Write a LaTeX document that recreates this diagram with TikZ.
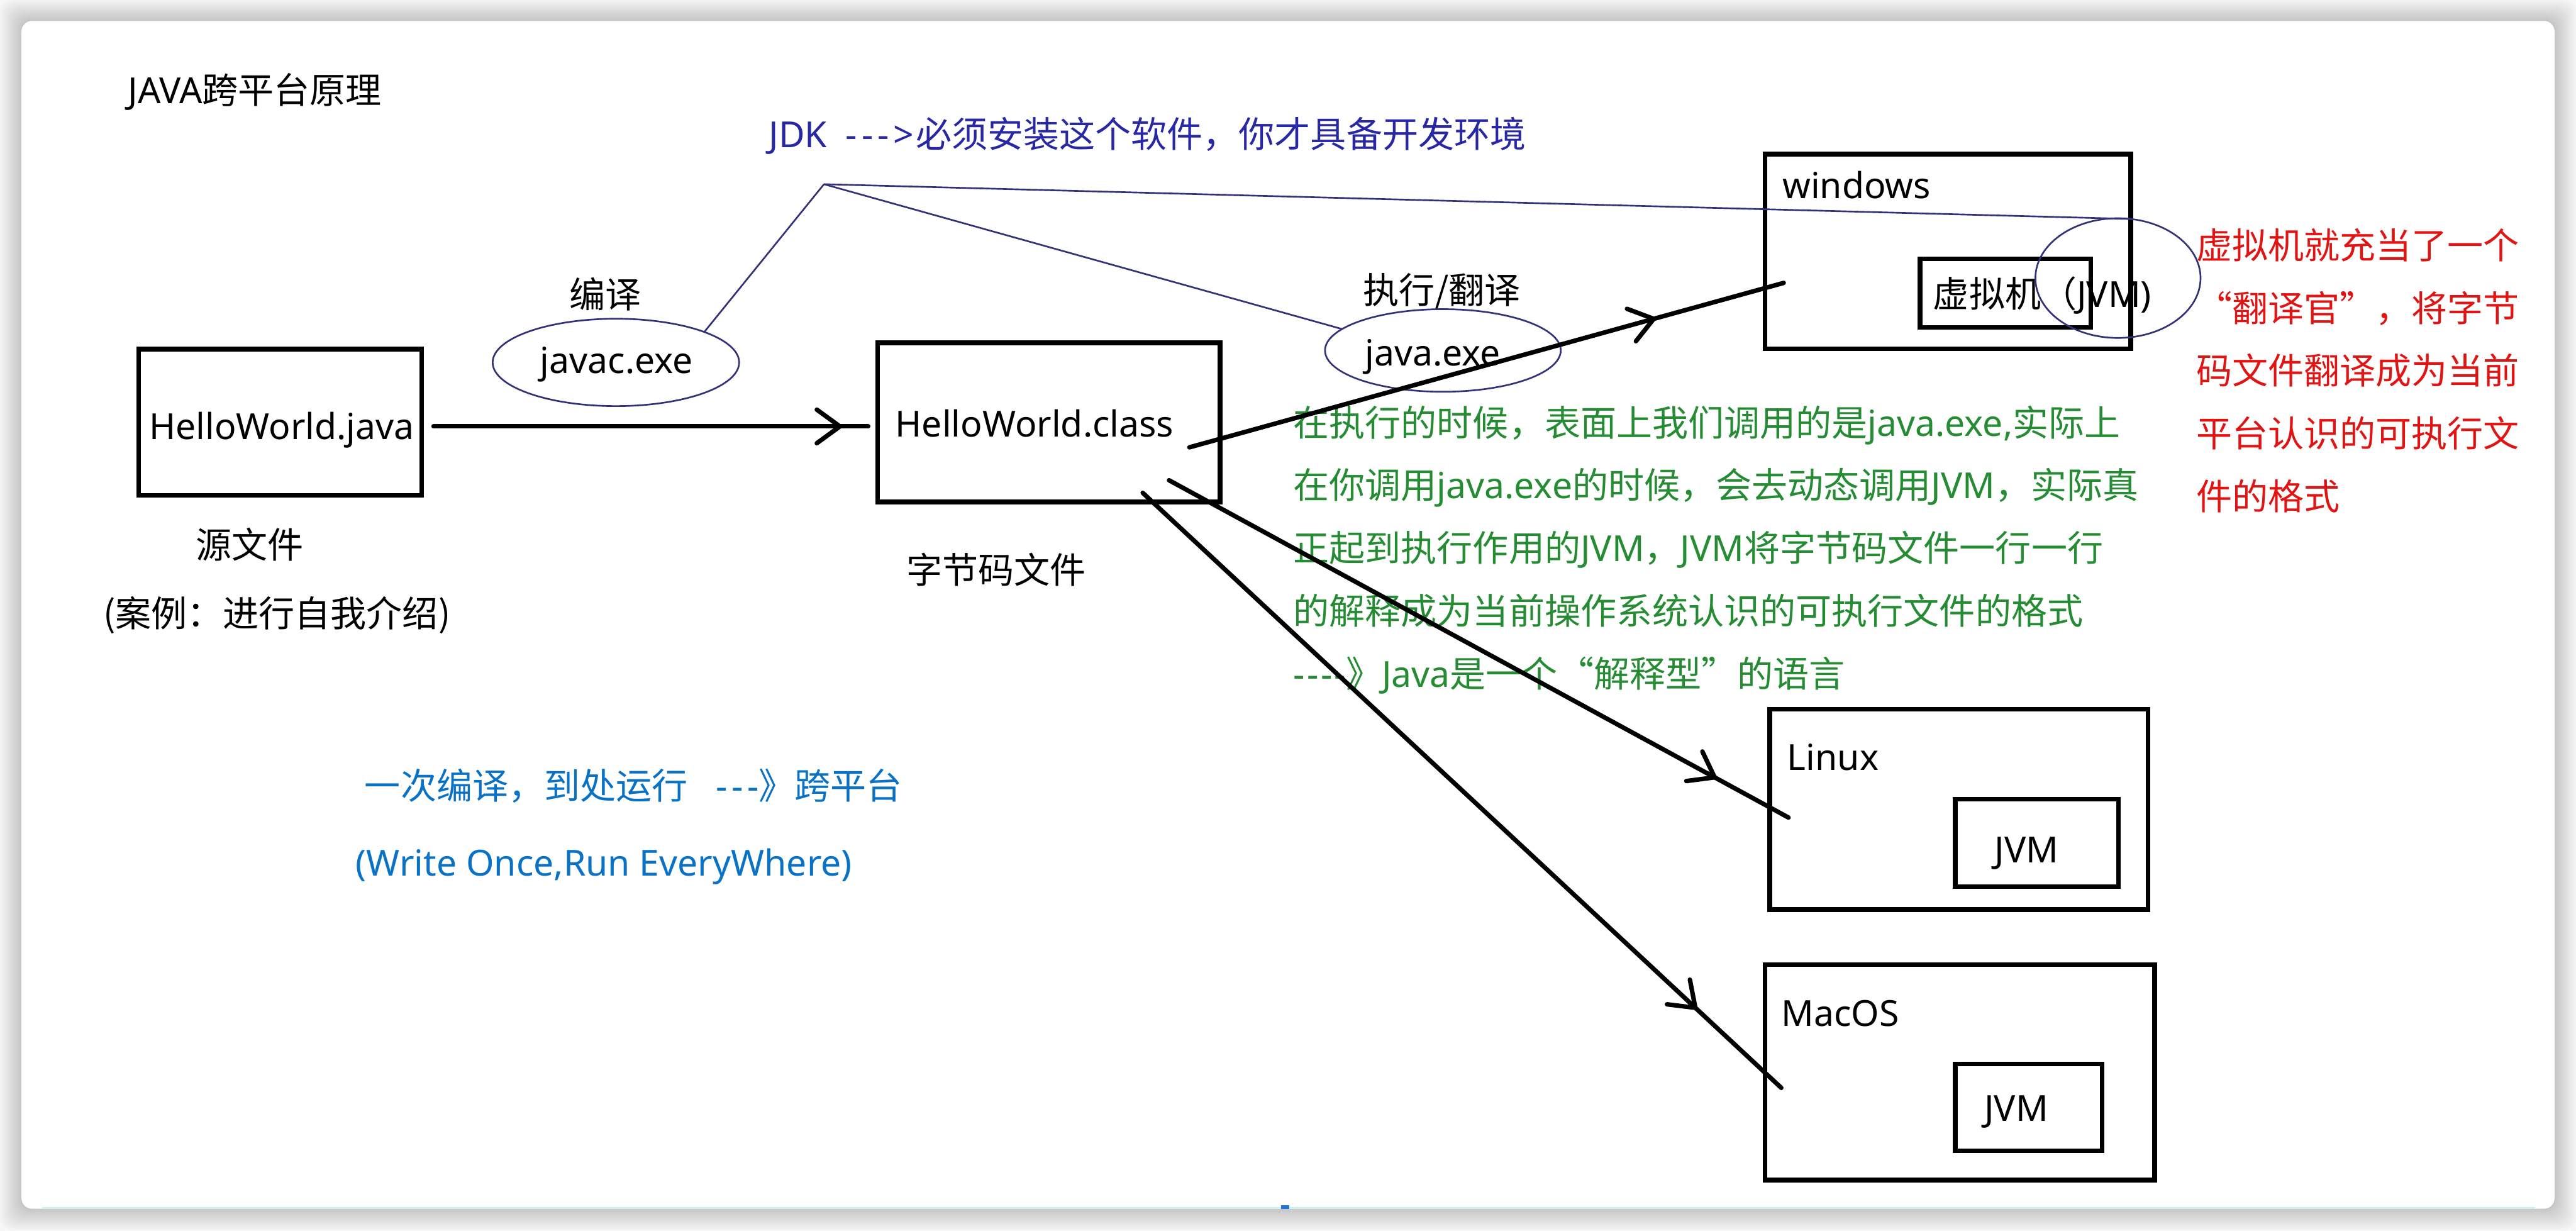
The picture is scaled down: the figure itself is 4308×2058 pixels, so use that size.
\documentclass[tikz,border=0pt]{standalone}
\usepackage{fontspec}
\setmainfont{Noto Sans CJK SC}[Ligatures=TeXOff]
\newfontfamily\lat{Noto Sans}[Ligatures=TeXOff]
\usetikzlibrary{shapes.geometric,arrows.meta,decorations.markings}
\definecolor{navyline}{RGB}{50,50,120}
\definecolor{jdkblue}{RGB}{40,40,165}
\definecolor{notegreen}{RGB}{38,140,52}
\definecolor{notered}{RGB}{225,20,20}
\definecolor{slogan}{RGB}{10,114,198}
\definecolor{pagebg}{RGB}{247,247,247}
\definecolor{edgecyan}{RGB}{190,242,245}
\definecolor{markblue}{RGB}{30,120,210}
\newcommand\fsz{\fontsize{17.07pt}{20pt}\selectfont}
\begin{document}
\begin{tikzpicture}[x=0.01cm,y=-0.01cm,
  every node/.style={inner sep=0pt,outer sep=0pt,font=\fsz},
  box/.style={draw,line width=0.08cm},
  vmbox/.style={draw,line width=0.075cm},
  oval/.style={ellipse,draw=navyline,line width=0.028cm},
  jdkline/.style={navyline,line width=0.028cm},
  lbl/.style={anchor=base west},
  ctr/.style={anchor=base},
  flow/.style={line width=0.075cm,line cap=round,postaction={decorate},
    decoration={markings,mark=at position #1 with {\arrow{Straight Barb[length=11pt,width=16pt,round]}}}}]
\useasboundingbox (0,0) rectangle (4308,2058);
% page and card
\fill[pagebg] (0,0) rectangle (4308,2058);
\foreach \i in {1,...,12}
  \fill[black,opacity=0.015,rounded corners=6pt] ({36-3*\i},{35-3*\i}) rectangle ({4272+3*\i},{2021+3*\i});
\fill[white,rounded corners=5pt] (36,35) rectangle (4272,2021);
\draw[edgecyan,line width=0.02cm] (70,2019) -- (4240,2019);
\fill[markblue] (2142,2015) rectangle (2156,2021);

% titles
\node[lbl] (title) at (214,173) {{\lat JAVA}跨平台原理};
\node[lbl,text=jdkblue] (jdk) at (1286,247) {{\lat JDK\ \ -\kern2pt-\kern2pt-\kern2pt>\kern1pt}必须安装这个软件，你才具备开发环境};

% source and class
\node[box,minimum width=4.73cm,minimum height=2.44cm] (hj) at (468.5,706) {};
\node[ctr] (hjt) at (471,735) {\lat HelloWorld.java};
\node[box,minimum width=5.72cm,minimum height=2.66cm] (hc) at (1754,706) {};
\node[ctr] (hct) at (1730,730) {\lat HelloWorld.class};
\node[ctr] (src) at (418,933) {源文件};
\node[ctr] (case) at (463,1048) {(案例：进行自我介绍)};
\node[ctr] (bc) at (1666,975) {字节码文件};

% tools
\node[ctr] (compile) at (1012,515) {编译};
\node[oval,minimum width=4.12cm,minimum height=1.46cm] (javac) at (1030,606) {};
\node[ctr] (javact) at (1031,624) {\lat javac.exe};
\node[ctr] (exec) at (2411,508) {执行/翻译};
\node[oval,minimum width=3.94cm,minimum height=1.38cm] (java) at (2413,586) {};
\node[ctr] (javat) at (2396,612) {\lat java.exe};

% windows
\node[box,minimum width=6.11cm,minimum height=3.25cm] (win) at (3257.5,420.5) {};
\node[lbl] (wint) at (2981,332) {\lat windows};
\node[vmbox,minimum width=2.85cm,minimum height=1.14cm] (winvm) at (3353.5,490) {};
\node[lbl] (winvmt) at (3233,514) {虚拟机（{\lat JVM)}};
\node[oval,minimum width=2.76cm,minimum height=2cm] (jvmc) at (3542,465) {};

% red note
\foreach \t [count=\i] in {虚拟机就充当了一个,“翻译官”，将字节,码文件翻译成为当前,平台认识的可执行文,件的格式}
  \node[lbl,text=notered] (r\i) at (3673,{433+104.75*(\i-1)}) {\t};

% green note
\node[lbl,text=notegreen] (g1) at (2163,729) {在执行的时候，表面上我们调用的是{\lat java.exe,}实际上};
\node[lbl,text=notegreen] (g2) at (2163,834) {在你调用{\lat java.exe}的时候，会去动态调用{\lat JVM}，实际真};
\node[lbl,text=notegreen] (g3) at (2163,939) {正起到执行作用的{\lat JVM}，{\lat JVM}将字节码文件一行一行};
\node[lbl,text=notegreen] (g4) at (2163,1044) {的解释成为当前操作系统认识的可执行文件的格式};
\node[lbl,text=notegreen] (g5) at (2163,1149) {{\lat -\kern1pt-\kern1pt-\kern1pt-}》{\lat Java}是一个“解释型”的语言};

% linux and mac
\node[box,minimum width=6.32cm,minimum height=3.35cm] (lin) at (3276,1353.5) {};
\node[lbl] (lint) at (2989,1288) {\lat Linux};
\node[vmbox,minimum width=2.73cm,minimum height=1.46cm] (linvm) at (3406.5,1409) {};
\node[ctr] (linvmt) at (3389,1443) {\lat JVM};
\node[box,minimum width=6.51cm,minimum height=3.60cm] (mac) at (3277.5,1793) {};
\node[lbl] (mact) at (2979,1716) {\lat MacOS};
\node[vmbox,minimum width=2.45cm,minimum height=1.45cm] (macvm) at (3392.5,1851.5) {};
\node[ctr] (macvmt) at (3372,1875) {\lat JVM};

% slogans
\node[lbl,text=slogan] (s1) at (610,1336) {一次编译，到处运行{\lat\ \ \ -\kern2pt-\kern2pt-}》跨平台};
\node[lbl,text=slogan] (s2) at (595,1465) {\lat (Write Once,Run EveryWhere)};

% JDK lines
\coordinate (hub) at (1378,308);
\draw[jdkline] (hub) -- (javac.19);
\draw[jdkline] (hub) -- (java.168);
\draw[jdkline] (hub) -- (jvmc.78);

% flow arrows
\coordinate (a0) at (725,713);
\coordinate (a1) at (1452,713);
\draw[flow=0.94] (a0) -- (a1);
\coordinate (w0) at (1989,748);
\coordinate (w1) at (2983,473);
\draw[flow=0.785] (w0) -- (w1);
\coordinate (l0) at (1955,803);
\coordinate (l1) at (2991,1367);
\draw[flow=0.884] (l0) -- (l1);
\coordinate (m0) at (1911,824);
\coordinate (m1) at (2979,1819);
\draw[flow=0.868] (m0) -- (m1);
\end{tikzpicture}
\end{document}
